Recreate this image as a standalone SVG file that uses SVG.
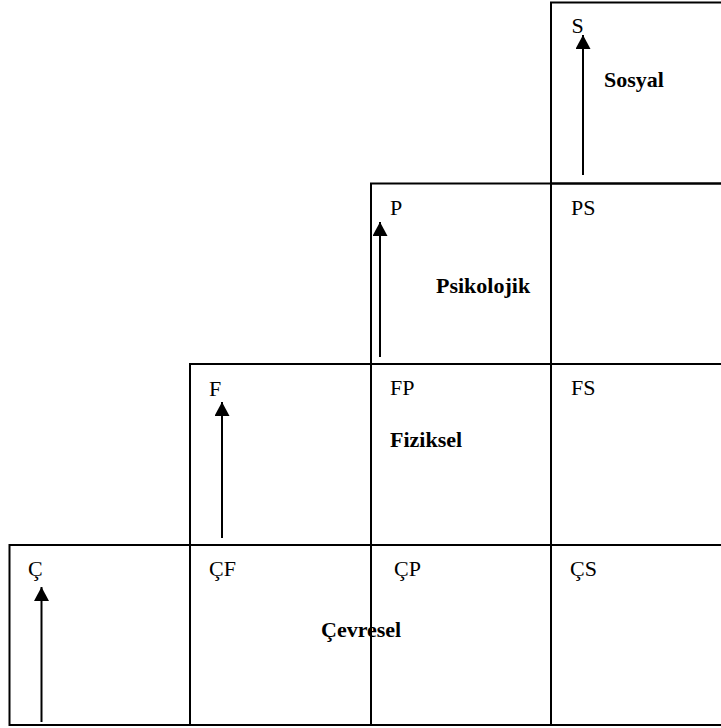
<svg xmlns="http://www.w3.org/2000/svg" width="721" height="728" viewBox="0 0 721 728">
  <style>
    .cell { fill: none; stroke: #000; stroke-width: 2; }
    .lbl { font-family: "Liberation Serif", "Times New Roman", serif; font-size: 22px; fill: #000; }
    .bold { font-weight: bold; }
    .conn { stroke: #000; stroke-width: 2; fill: none; }
  </style>
  <defs>
    <marker id="ah" markerUnits="userSpaceOnUse" markerWidth="15" markerHeight="15" refX="14" refY="7.5" orient="auto">
      <path d="M0,0 L14,7.5 L0,15 z" fill="#000"/>
    </marker>
  </defs>
  <rect width="721" height="728" fill="#fff"/>

  <g id="S"><rect class="cell" x="551" y="2.5" width="180" height="181"/><text class="lbl" x="571.5" y="33">S</text></g>
  <g id="Sosyal"><text class="lbl bold" x="604" y="87">Sosyal</text></g>

  <g id="P"><rect class="cell" x="371" y="183.5" width="180" height="180.5"/><text class="lbl" x="390" y="215">P</text></g>
  <g id="Psikolojik"><text class="lbl bold" x="436" y="293">Psikolojik</text></g>
  <g id="PS"><rect class="cell" x="551" y="183.5" width="180" height="180.5"/><text class="lbl" x="571" y="215">PS</text></g>

  <g id="F"><rect class="cell" x="190" y="364" width="181" height="181"/><text class="lbl" x="209" y="396">F</text></g>
  <g id="FP"><rect class="cell" x="371" y="364" width="180" height="181"/><text class="lbl" x="390" y="395">FP</text></g>
  <g id="Fiziksel"><text class="lbl bold" x="390" y="447">Fiziksel</text></g>
  <g id="FS"><rect class="cell" x="551" y="364" width="180" height="181"/><text class="lbl" x="571" y="395">FS</text></g>

  <g id="C"><rect class="cell" x="9.5" y="545" width="180.5" height="180"/><text class="lbl" x="28" y="576">Ç</text></g>
  <g id="CF"><rect class="cell" x="190" y="545" width="181" height="180"/><text class="lbl" x="209" y="576">ÇF</text></g>
  <g id="CP"><rect class="cell" x="371" y="545" width="180" height="180"/><text class="lbl" x="394" y="576">ÇP</text></g>
  <g id="CS"><rect class="cell" x="551" y="545" width="180" height="180"/><text class="lbl" x="570" y="576">ÇS</text></g>
  <g id="Cevresel"><text class="lbl bold" x="321" y="637">Çevresel</text></g>

  <g id="connectors">
    <line class="conn" x1="583" y1="175" x2="583" y2="35" marker-end="url(#ah)"/>
    <line class="conn" x1="380" y1="357" x2="380" y2="222" marker-end="url(#ah)"/>
    <line class="conn" x1="222" y1="538" x2="222" y2="402" marker-end="url(#ah)"/>
    <line class="conn" x1="41.5" y1="722" x2="41.5" y2="587" marker-end="url(#ah)"/>
  </g>
</svg>
